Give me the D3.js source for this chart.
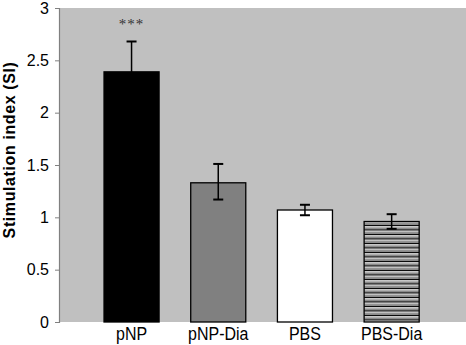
<!DOCTYPE html>
<html lang="en">
  <head>
    <meta charset="UTF-8" />
    <title>Stimulation index</title>
    <style>
      body { margin: 0; background: #fff; }
      svg { display: block; font-family: "Liberation Sans", Arial, sans-serif; }
    </style>
  </head>
  <body>
    <svg id="chart"></svg>
    <script src="https://d3js.org/d3.v7.min.js"></script>
    <script>
      const width = 466;
      const height = 345;

      const categories = ["pNP", "pNP-Dia", "PBS", "PBS-Dia"];
      const means = [2.39, 1.33, 1.07, 0.96];
      const errLow = [2.10, 1.17, 1.02, 0.89];
      const errHigh = [2.68, 1.51, 1.12, 1.03];
      const fills = ["#000000", "#808080", "#ffffff", "url(#stripes)"];
      const yTicks = [0, 0.5, 1, 1.5, 2, 2.5, 3];

      const plot = { left: 59, right: 466, top: 8, bottom: 322 };

      const svg = d3.select("#chart").attr("width", width).attr("height", height);

      const pat = svg.append("defs").append("pattern")
        .attr("id", "stripes")
        .attr("patternUnits", "userSpaceOnUse")
        .attr("width", 10).attr("height", 4.5);
      pat.append("rect").attr("width", 10).attr("height", 4.5).attr("fill", "#8a8a8a");
      pat.append("rect").attr("y", 0).attr("width", 10).attr("height", 1.2).attr("fill", "#000");
      pat.append("rect").attr("y", 1.2).attr("width", 10).attr("height", 1).attr("fill", "#fff");

      const x = d3.scaleBand()
        .domain(categories)
        .range([88.2, 435])
        .paddingInner(0.365)
        .paddingOuter(0.1825);

      const y = d3.scaleLinear().domain([0, 3]).range([plot.bottom, plot.top]);

      // plot background
      svg.append("rect")
        .attr("x", plot.left).attr("y", plot.top)
        .attr("width", plot.right - plot.left)
        .attr("height", plot.bottom - plot.top)
        .attr("fill", "#c0c0c0");

      // y axis
      const yAxis = svg.append("g")
        .attr("transform", `translate(${plot.left},0)`)
        .call(d3.axisLeft(y).tickValues(yTicks).tickSize(4).tickPadding(6).tickFormat(d3.format("")));
      yAxis.select(".domain").attr("stroke", "#808080").attr("stroke-width", 1.2);
      yAxis.selectAll(".tick line").attr("stroke", "#808080");
      yAxis.selectAll(".tick text")
        .attr("font-size", 16)
        .attr("fill", "#000")
        .attr("font-family", "'Liberation Sans', Arial, sans-serif");

      // bars
      svg.selectAll("rect.bar")
        .data(categories)
        .join("rect")
        .attr("class", "bar")
        .attr("x", (d) => x(d))
        .attr("y", (d, i) => y(means[i]))
        .attr("width", x.bandwidth())
        .attr("height", (d, i) => y(0) - y(means[i]))
        .attr("fill", (d, i) => fills[i])
        .attr("stroke", "#000")
        .attr("stroke-width", 1.3);

      // error bars
      const eb = svg.append("g").attr("stroke", "#000").attr("stroke-width", 1.5);
      categories.forEach((c, i) => {
        const cx = x(c) + x.bandwidth() / 2;
        eb.append("line").attr("x1", cx).attr("x2", cx)
          .attr("y1", y(errLow[i])).attr("y2", y(errHigh[i]));
        [errLow[i], errHigh[i]].forEach((v) => {
          eb.append("line").attr("x1", cx - 5).attr("x2", cx + 5)
            .attr("y1", y(v)).attr("y2", y(v)).attr("stroke-width", 2);
        });
      });

      // x labels (slightly tall, like the original)
      svg.selectAll("text.xlab")
        .data(categories)
        .join("text")
        .attr("class", "xlab")
        .attr("transform", (d) => `translate(${x(d) + x.bandwidth() / 2},340) scale(1,1.12)`)
        .attr("text-anchor", "middle")
        .attr("font-size", 16)
        .text((d) => d);

      // significance
      svg.append("text")
        .attr("x", x("pNP") + x.bandwidth() / 2)
        .attr("y", 29)
        .attr("text-anchor", "middle")
        .attr("font-family", "'Liberation Serif', 'DejaVu Serif', serif")
        .attr("font-size", 15)
        .attr("letter-spacing", "1px")
        .attr("fill", "#333")
        .text("***");

      // y title
      svg.append("text")
        .attr("transform", "translate(15,150) rotate(-90)")
        .attr("text-anchor", "middle")
        .attr("font-size", 16)
        .attr("font-weight", "bold")
        .attr("letter-spacing", "0.6px")
        .text("Stimulation index  (SI)");
    </script>
  </body>
</html>
